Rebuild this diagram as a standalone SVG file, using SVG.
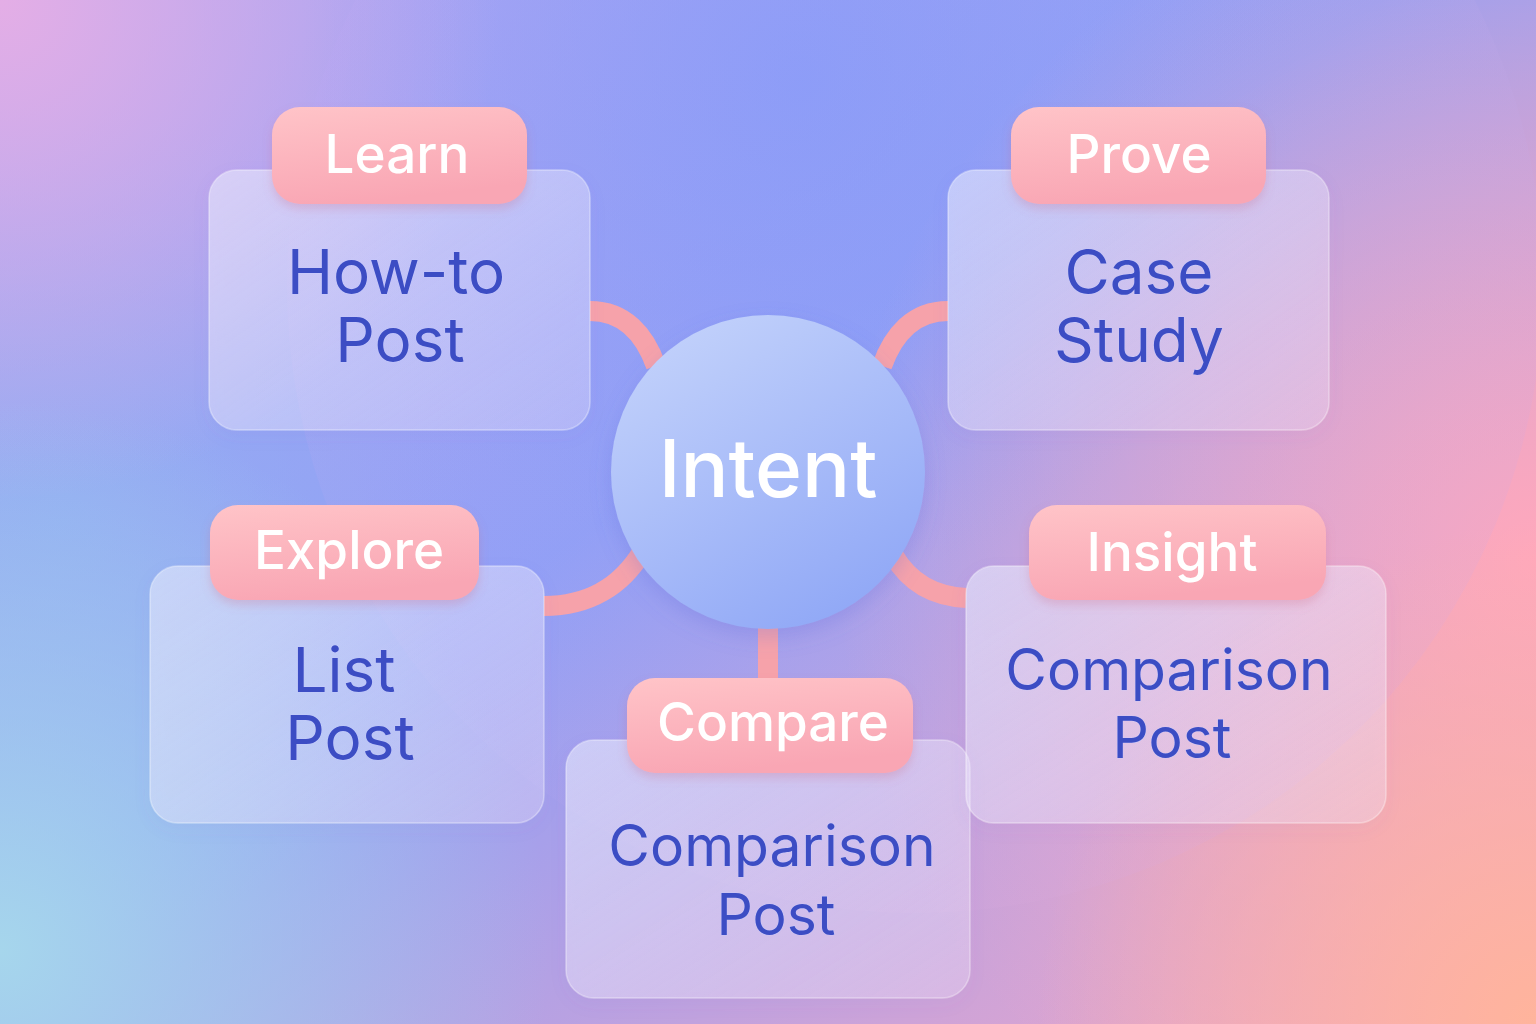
<svg xmlns="http://www.w3.org/2000/svg" width="1536" height="1024" viewBox="0 0 1536 1024">
<defs>
<linearGradient id="bgBase" x1="0" y1="0" x2="1" y2="1">
<stop offset="0" stop-color="#a9a6f2"/>
<stop offset="0.45" stop-color="#8e9ef6"/>
<stop offset="1" stop-color="#f3a6c6"/>
</linearGradient>
<radialGradient id="gTL" cx="0" cy="0" r="500" gradientUnits="userSpaceOnUse">
<stop offset="0" stop-color="#e4aee6" stop-opacity="1"/>
<stop offset="1" stop-color="#e4aee6" stop-opacity="0"/>
</radialGradient>
<radialGradient id="gTC" cx="800" cy="80" r="500" gradientUnits="userSpaceOnUse">
<stop offset="0" stop-color="#8399f9" stop-opacity="0.9"/>
<stop offset="1" stop-color="#8399f9" stop-opacity="0"/>
</radialGradient>
<radialGradient id="gR" cx="1536" cy="560" r="700" gradientUnits="userSpaceOnUse">
<stop offset="0" stop-color="#ffa8bc" stop-opacity="1"/>
<stop offset="1" stop-color="#ffa8bc" stop-opacity="0"/>
</radialGradient>
<radialGradient id="gBR" cx="1536" cy="1024" r="500" gradientUnits="userSpaceOnUse">
<stop offset="0" stop-color="#ffb49c" stop-opacity="1"/>
<stop offset="1" stop-color="#ffb49c" stop-opacity="0"/>
</radialGradient>
<radialGradient id="gBL" cx="0" cy="950" r="550" gradientUnits="userSpaceOnUse">
<stop offset="0" stop-color="#a6d6ec" stop-opacity="1"/>
<stop offset="1" stop-color="#a6d6ec" stop-opacity="0"/>
</radialGradient>
<radialGradient id="gL" cx="60" cy="520" r="420" gradientUnits="userSpaceOnUse">
<stop offset="0" stop-color="#92aef2" stop-opacity="0.9"/>
<stop offset="1" stop-color="#92aef2" stop-opacity="0"/>
</radialGradient>
<linearGradient id="bigCircle" x1="0" y1="0" x2="1" y2="1">
<stop offset="0" stop-color="#c4a8f0" stop-opacity="0.35"/>
<stop offset="0.5" stop-color="#a8a8f4" stop-opacity="0.15"/>
<stop offset="1" stop-color="#f8a8c8" stop-opacity="0.3"/>
</linearGradient>
<linearGradient id="cardFill" x1="0" y1="0" x2="1" y2="1">
<stop offset="0" stop-color="#eef0ff" stop-opacity="0.55"/>
<stop offset="1" stop-color="#f4eaff" stop-opacity="0.3"/>
</linearGradient>
<linearGradient id="tagFill" x1="0" y1="0" x2="0.3" y2="1">
<stop offset="0" stop-color="#ffc4c8"/>
<stop offset="1" stop-color="#f9a6b4"/>
</linearGradient>
<linearGradient id="hubFill" x1="0.2" y1="0" x2="0.8" y2="1">
<stop offset="0" stop-color="#c3d2fb"/>
<stop offset="1" stop-color="#8ea6f6"/>
</linearGradient>
<filter id="cardShadow" x="-10%" y="-10%" width="120%" height="130%">
<feDropShadow dx="0" dy="6" stdDeviation="8" flood-color="#6a5ad0" flood-opacity="0.15"/>
</filter>
<filter id="tagShadow" x="-10%" y="-20%" width="120%" height="150%">
<feDropShadow dx="0" dy="5" stdDeviation="5" flood-color="#d0607a" flood-opacity="0.25"/>
</filter>
<filter id="hubShadow" x="-20%" y="-20%" width="140%" height="140%">
<feDropShadow dx="0" dy="8" stdDeviation="10" flood-color="#5a6ad8" flood-opacity="0.25"/>
</filter>
</defs>
<style>
.card{fill:url(#cardFill);stroke:#ffffff;stroke-opacity:0.35;stroke-width:1.5;filter:url(#cardShadow)}
.tag{fill:url(#tagFill);filter:url(#tagShadow)}
.tagText{font-family:Inter,"Noto Sans",sans-serif;font-weight:500;font-size:53px;fill:#ffffff;text-anchor:middle}
.cardText{font-family:Inter,"Noto Sans",sans-serif;font-weight:400;font-size:62px;fill:#3c4dc4;text-anchor:middle;stroke:#c8ccff;stroke-width:0.6;paint-order:stroke}
.small{font-size:57px}
.hubText{font-family:Inter,"Noto Sans",sans-serif;font-weight:500;font-size:80px;fill:#ffffff;text-anchor:middle}
.conn{fill:none;stroke:#f6a2aa;stroke-width:20;stroke-linecap:butt}
</style>

<rect width="1536" height="1024" fill="url(#bgBase)"/>
<rect width="1536" height="1024" fill="url(#gTC)"/>
<rect width="1536" height="1024" fill="url(#gL)"/>
<rect width="1536" height="1024" fill="url(#gTL)"/>
<rect width="1536" height="1024" fill="url(#gR)"/>
<rect width="1536" height="1024" fill="url(#gBR)"/>
<rect width="1536" height="1024" fill="url(#gBL)"/>
<circle cx="915" cy="285" r="628" fill="url(#bigCircle)"/>

<g id="connectors">
<path class="conn" d="M590,311 C625,311 645,335 656,366"/>
<path class="conn" d="M948,311 C913,311 893,335 882,366"/>
<path class="conn" d="M544,606 C590,606 622,585 642,552"/>
<path class="conn" d="M966,598 C930,596 908,580 894,556"/>
<path class="conn" d="M768,620 L768,685" stroke-width="22"/>
</g>

<g id="hub">
<circle cx="768" cy="472" r="157" fill="url(#hubFill)" filter="url(#hubShadow)"/>
<text class="hubText" x="768" y="497">Intent</text>
</g>

<g id="node-learn">
<rect class="card" x="209" y="170" width="381" height="260" rx="28"/>
<rect class="tag" x="272" y="107" width="255" height="97" rx="28"/>
<text class="tagText" x="397" y="173">Learn</text>
<text class="cardText" x="396" y="294">How-to</text>
<text class="cardText" x="400" y="362">Post</text>
</g>

<g id="node-prove">
<rect class="card" x="948" y="170" width="381" height="260" rx="28"/>
<rect class="tag" x="1011" y="107" width="255" height="97" rx="28"/>
<text class="tagText" x="1139" y="173">Prove</text>
<text class="cardText" x="1139" y="294">Case</text>
<text class="cardText" x="1139" y="362">Study</text>
</g>

<g id="node-explore">
<rect class="card" x="150" y="566" width="394" height="257" rx="28"/>
<rect class="tag" x="210" y="505" width="269" height="95" rx="28"/>
<text class="tagText" x="349" y="569">Explore</text>
<text class="cardText" x="344" y="692">List</text>
<text class="cardText" x="350" y="760">Post</text>
</g>

<g id="node-compare">
<rect class="card" x="566" y="740" width="404" height="258" rx="28"/>
<rect class="tag" x="627" y="678" width="286" height="95" rx="28"/>
<text class="tagText" x="773" y="741">Compare</text>
<text class="cardText small" x="772" y="866">Comparison</text>
<text class="cardText small" x="776" y="935">Post</text>
</g>

<g id="node-insight">
<rect class="card" x="966" y="566" width="420" height="257" rx="28"/>
<rect class="tag" x="1029" y="505" width="297" height="95" rx="28"/>
<text class="tagText" x="1172" y="571">Insight</text>
<text class="cardText small" x="1169" y="690">Comparison</text>
<text class="cardText small" x="1172" y="758">Post</text>
</g>
</svg>
